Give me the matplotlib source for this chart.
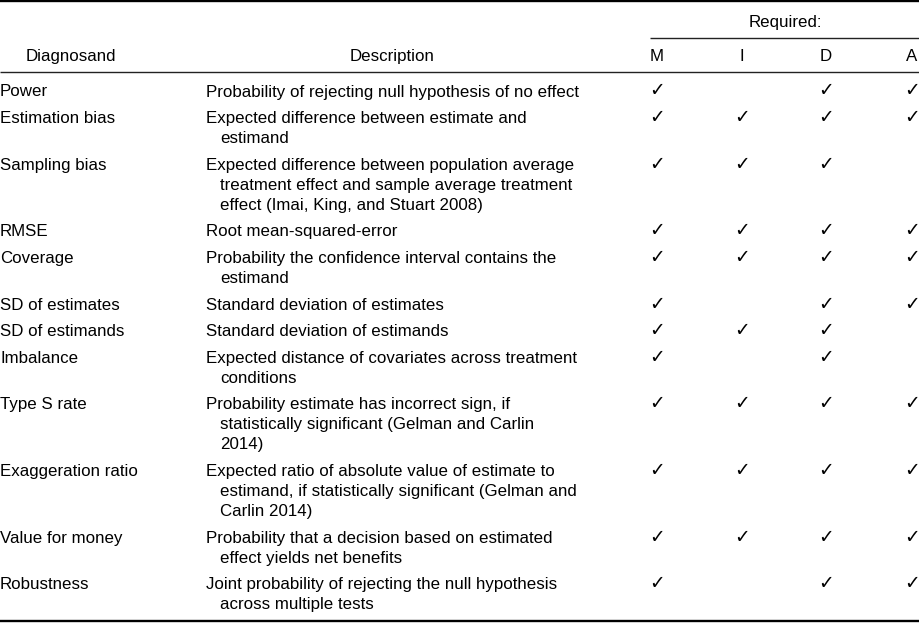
import matplotlib
matplotlib.use("Agg")
import matplotlib.pyplot as plt

plt.rcParams['font.family'] = ['Liberation Sans', 'DejaVu Sans']

# table content
diagnosands = [
    "Power", "Estimation bias", "Sampling bias", "RMSE", "Coverage",
    "SD of estimates", "SD of estimands", "Imbalance", "Type S rate",
    "Exaggeration ratio", "Value for money", "Robustness",
]
descriptions = [
    ["Probability of rejecting null hypothesis of no effect"],
    ["Expected difference between estimate and", "estimand"],
    ["Expected difference between population average",
     "treatment effect and sample average treatment",
     "effect (Imai, King, and Stuart 2008)"],
    ["Root mean-squared-error"],
    ["Probability the confidence interval contains the", "estimand"],
    ["Standard deviation of estimates"],
    ["Standard deviation of estimands"],
    ["Expected distance of covariates across treatment", "conditions"],
    ["Probability estimate has incorrect sign, if",
     "statistically significant (Gelman and Carlin", "2014)"],
    ["Expected ratio of absolute value of estimate to",
     "estimand, if statistically significant (Gelman and",
     "Carlin 2014)"],
    ["Probability that a decision based on estimated",
     "effect yields net benefits"],
    ["Joint probability of rejecting the null hypothesis",
     "across multiple tests"],
]
required_cols = ["M", "I", "D", "A"]
required = ["MDA", "MIDA", "MID", "MIDA", "MIDA", "MDA", "MID", "MD",
            "MIDA", "MIDA", "MIDA", "MDA"]

W, H = 919, 623
FS = 12.2
fig = plt.figure(figsize=(W / 100, H / 100), dpi=100)
ax = fig.add_axes([0, 0, 1, 1])
ax.set_xlim(0, W)
ax.set_ylim(H, 0)
ax.axis('off')

col_x = {"M": 657, "I": 742, "D": 826, "A": 912}
x_name = 0
x_desc = 206
indent = 14

# rules
ax.plot([0, W], [1.2, 1.2], color='black', lw=1.7, solid_capstyle='butt')
ax.plot([650, W], [37.7, 37.7], color='#222222', lw=1.0, solid_capstyle='butt')
ax.plot([0, W], [72.3, 72.3], color='#222222', lw=1.0, solid_capstyle='butt')
ax.plot([0, W], [620.5, 620.5], color='black', lw=1.7, solid_capstyle='butt')

# header
ax.text(785, 26.7, "Required:", fontsize=FS, ha='center', va='baseline')
ax.text(71, 61, "Diagnosand", fontsize=FS, ha='center', va='baseline')
ax.text(392, 61, "Description", fontsize=FS, ha='center', va='baseline')
for c in required_cols:
    ax.text(col_x[c], 61, c, fontsize=FS, ha='center', va='baseline')

# body
line_h = 20
gap = 6.6
y = 96.5
for name, desc, req in zip(diagnosands, descriptions, required):
    ax.text(x_name, y, name, fontsize=FS, ha='left', va='baseline')
    for k, line in enumerate(desc):
        ax.text(x_desc + (indent if k else 0), y + k * line_h, line,
                fontsize=FS, ha='left', va='baseline')
    for c in req:
        ax.text(col_x[c], y, "\u2713", fontsize=13.5, ha='center', va='baseline',
                family=['DejaVu Sans'], path_effects=None)
    y += len(desc) * line_h + gap

fig.savefig("out.png", dpi=100)
